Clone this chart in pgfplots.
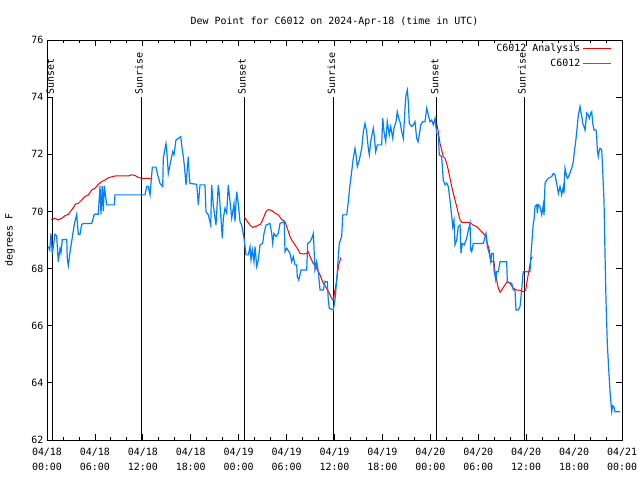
\documentclass[border=0pt]{standalone}
\usepackage{fontspec}
\setmainfont{DejaVu Sans Mono}
\usepackage{pgfplots}
\pgfplotsset{compat=1.18}
\definecolor{obsblue}{RGB}{0,128,255}
\begin{document}
\fontsize{10}{11}\selectfont
\begin{tikzpicture}
\begin{axis}[
  scale only axis, width=575bp, height=400bp,
  at={(0,0)}, anchor=south west,
  xmin=0, xmax=72, ymin=62, ymax=76,
  xtick={0,6,...,72},
  xticklabels={04/18\\00:00,04/18\\06:00,04/18\\12:00,04/18\\18:00,04/19\\00:00,04/19\\06:00,04/19\\12:00,04/19\\18:00,04/20\\00:00,04/20\\06:00,04/20\\12:00,04/20\\18:00,04/21\\00:00},
  xticklabel style={align=center, font=\fontsize{10}{15}\selectfont, yshift=-4.5bp},
  minor x tick num=2,
  ytick={62,64,...,76},
  yticklabel style={font=\fontsize{10}{11}\selectfont},
  /pgf/number format/assume math mode=true,
  tick align=inside, major tick length=6bp, minor tick length=3.5bp,
  tick style={black, line width=0.8bp},
  axis line style={black, line width=0.9bp},
  title={Dew Point for C6012 on 2024-Apr-18 (time in UTC)},
  title style={font=\fontsize{10}{11}\selectfont, yshift=4bp},
  ylabel={degrees F},
  ylabel style={font=\fontsize{10}{11}\selectfont, at={(axis description cs:-0.0643,0.5)}, anchor=center},
  legend cell align=right,
  legend plot pos=right,
  legend style={draw=none, fill=none, at={(0.984,0.998)}, anchor=north east,
     font=\fontsize{10}{11}\selectfont, row sep=2bp, inner sep=1bp},
  legend image code/.code={\draw[#1] (0bp,0bp) -- (28bp,0bp);},
  unbounded coords=jump,
]
% sunrise / sunset markers
\addplot[black, line width=0.9bp, forget plot] coordinates {(0.66,62) (0.66,74)};
\addplot[black, line width=0.9bp, forget plot] coordinates {(11.77,62) (11.77,74)};
\addplot[black, line width=0.9bp, forget plot] coordinates {(24.67,62) (24.67,74)};
\addplot[black, line width=0.9bp, forget plot] coordinates {(35.85,62) (35.85,74)};
\addplot[black, line width=0.9bp, forget plot] coordinates {(48.80,62) (48.80,74)};
\addplot[black, line width=0.9bp, forget plot] coordinates {(59.73,62) (59.73,74)};
\node[rotate=90, anchor=west, yshift=2bp, inner sep=2bp] at (axis cs:0.66,74) {Sunset};
\node[rotate=90, anchor=west, yshift=2bp, inner sep=2bp] at (axis cs:11.77,74) {Sunrise};
\node[rotate=90, anchor=west, yshift=2bp, inner sep=2bp] at (axis cs:24.67,74) {Sunset};
\node[rotate=90, anchor=west, yshift=2bp, inner sep=2bp] at (axis cs:35.85,74) {Sunrise};
\node[rotate=90, anchor=west, yshift=2bp, inner sep=2bp] at (axis cs:48.80,74) {Sunset};
\node[rotate=90, anchor=west, yshift=2bp, inner sep=2bp] at (axis cs:59.73,74) {Sunrise};
% analysis
\addplot[red, line width=1bp] coordinates {
(0.50,69.72) (1.00,69.76) (1.41,69.70) (1.84,69.76) (2.25,69.85) (2.67,69.90) (3.09,70.05) (3.59,70.26) (3.92,70.28) (4.35,70.40) (4.76,70.52) (5.17,70.58) (5.60,70.75) (6.01,70.81) (6.42,70.95) (6.85,71.04) (7.26,71.10) (7.68,71.18) (8.51,71.24) (10.18,71.24) (10.61,71.28) (11.02,71.26) (11.43,71.19) (11.86,71.16) (13.11,71.16)
(18.0,nan)
(24.67,69.82) (25.01,69.68) (25.42,69.52) (25.76,69.44) (26.26,69.49) (26.76,69.56) (27.09,69.76) (27.42,69.99) (27.71,70.07) (28.14,70.03) (28.55,69.94) (28.96,69.88) (29.39,69.72) (29.80,69.64) (30.09,69.41) (30.43,69.12) (30.64,69.00) (31.05,68.83) (31.47,68.65) (31.68,68.53) (32.09,68.51) (32.52,68.53) (32.72,68.59) (32.93,68.42) (33.35,68.18) (33.77,68.01) (34.19,67.78) (34.60,67.48) (35.02,67.31) (35.35,67.13) (35.65,66.96) (35.85,66.88) (36.06,67.25) (36.28,67.60) (36.40,67.89) (36.53,68.13) (36.81,68.39)
(42.0,nan)
(48.80,73.08) (49.00,72.79) (49.21,72.38) (49.42,72.15) (49.62,71.92) (49.84,71.86) (50.05,71.68) (50.25,71.45) (50.46,71.16) (50.68,70.87) (50.88,70.63) (51.09,70.40) (51.30,70.17) (51.50,69.93) (51.72,69.70) (51.93,69.62) (52.97,69.61) (53.38,69.52) (53.81,69.47) (54.22,69.35) (54.63,69.23) (54.97,69.12) (55.14,68.88) (55.38,68.65) (55.56,68.30) (55.69,68.24) (55.97,68.24) (56.10,67.89) (56.31,67.60) (56.51,67.31) (56.73,67.17) (56.94,67.25) (57.35,67.43) (57.64,67.54) (57.98,67.48) (58.39,67.31) (58.81,67.25) (59.23,67.24) (59.64,67.19) (59.94,67.25) (60.14,67.60) (60.36,67.95) (60.57,68.30) (60.77,68.42)
};
\addlegendentry{C6012 Analysis}
% observations
\addplot[obsblue, line width=1.2bp] coordinates {
(0.16,68.77) (0.34,68.65) (0.50,69.23) (0.66,68.50) (1.00,69.20) (1.21,69.15) (1.41,68.24) (1.63,68.70) (1.75,68.55) (1.92,69.02) (2.47,69.02) (2.54,68.35) (2.67,68.10) (2.88,68.58) (3.09,68.95) (3.42,69.55) (3.72,69.90) (3.79,69.65) (3.92,69.20) (4.13,69.20) (4.35,69.55) (4.67,69.58) (5.60,69.58) (5.92,69.90) (6.42,69.90) (6.64,70.89) (6.76,69.90) (6.92,70.89) (7.05,70.00) (7.18,70.89) (7.35,70.50) (7.47,70.23) (8.43,70.23) (8.51,70.58) (12.18,70.58)
(12.27,70.58) (12.48,70.87) (12.68,70.87) (12.90,70.58) (13.19,71.55) (13.65,71.55) (13.86,71.28) (14.15,70.98) (14.49,70.87) (14.56,71.86) (14.90,72.38) (14.99,72.15) (15.19,71.33) (15.61,71.92) (15.74,72.09) (15.90,71.98) (16.15,72.50) (16.57,72.58) (16.74,72.62) (16.94,72.15) (17.07,71.92) (17.19,71.63) (17.41,70.93) (17.69,71.92) (17.82,71.22) (17.91,70.98) (18.75,70.95) (18.95,70.23) (19.16,70.93) (19.78,70.93) (19.91,69.99) (20.20,69.88) (20.50,69.52) (20.62,70.93) (20.82,70.23) (21.16,69.52) (21.45,70.93) (21.58,70.58) (21.95,69.06) (22.08,69.76) (22.29,70.11) (22.50,69.94) (22.70,70.93) (22.83,70.58) (23.13,69.76) (23.42,70.28) (23.54,69.64) (23.75,70.69) (23.95,70.28) (24.17,69.64) (24.38,69.52) (24.67,69.06)
(24.92,68.48) (25.21,68.48) (25.42,68.77) (25.55,68.30) (25.71,68.65) (25.92,68.24) (26.05,68.77) (26.26,68.07) (26.46,68.30) (26.67,68.83) (27.01,68.88) (27.17,69.23) (27.42,69.52) (27.92,69.58) (28.14,69.23) (28.26,68.88) (28.42,69.23) (28.68,69.12) (28.96,69.23) (29.18,69.58) (29.71,69.64) (29.80,68.59) (30.02,68.71) (30.43,68.53) (30.64,68.24) (30.84,68.42) (31.05,68.13) (31.27,68.13) (31.34,67.72) (31.52,67.60) (31.68,67.78) (31.81,67.95) (32.52,67.95) (32.64,68.88) (32.93,68.94) (33.15,69.06) (33.35,69.23) (33.56,67.95) (33.77,68.24) (33.97,67.89) (34.19,67.25) (34.60,67.25) (34.81,67.54) (35.10,67.54) (35.22,66.90) (35.35,66.61) (35.85,66.55) (36.06,66.90) (36.28,67.60) (36.48,68.42) (36.60,68.88)
(36.90,69.12) (37.03,69.88) (37.53,69.88) (37.73,70.34) (37.94,70.93) (38.15,71.39) (38.35,71.86) (38.57,72.21) (38.69,71.98) (38.86,71.57) (39.11,71.80) (39.41,72.21) (39.61,72.79) (39.82,73.08) (40.03,72.79) (40.23,72.21) (40.36,71.98) (40.53,72.44) (40.73,72.73) (40.86,72.91) (40.99,72.62) (41.16,72.09) (41.36,72.33) (41.91,72.33) (42.04,73.26) (42.20,72.79) (42.41,72.44) (42.61,73.14) (42.86,72.68) (43.04,72.97) (43.29,72.56) (43.45,72.91) (43.70,73.14) (43.86,73.49) (44.04,73.26) (44.20,73.14) (44.42,72.79) (44.62,72.56) (44.83,73.61) (44.95,74.07) (45.12,74.25) (45.24,73.84) (45.37,73.08) (45.67,72.97) (45.87,73.03) (46.08,73.14) (46.29,72.56) (46.46,72.44) (46.62,72.68) (46.80,73.03) (47.05,73.14) (47.33,73.14) (47.55,73.61) (47.75,73.37) (47.96,73.14) (48.17,73.20) (48.37,73.03) (48.59,73.26) (48.80,72.73) (49.00,72.68) (49.12,71.98)
(49.42,71.92) (49.62,71.10) (49.84,70.93) (50.05,70.99) (50.25,70.87) (50.46,70.40) (50.68,69.82) (50.80,69.47) (50.96,69.70) (51.09,68.83) (51.30,69.00) (51.50,69.47) (51.72,69.53) (51.84,68.53) (52.00,68.88) (52.25,68.83) (52.55,69.06) (52.76,69.35) (52.97,69.58) (53.06,68.65) (53.18,68.59) (53.38,68.88) (54.63,68.88) (54.97,69.23) (55.14,68.77) (55.38,68.53) (55.56,68.24) (55.69,68.53) (55.89,68.53) (55.97,67.95) (56.19,67.60) (56.31,67.89) (56.51,67.89) (56.73,68.24) (57.56,68.24) (57.64,67.54) (58.19,67.48) (58.39,67.25) (58.60,67.25) (58.73,66.55) (59.02,66.55) (59.23,66.67) (59.44,67.25) (59.57,67.72) (59.64,67.89) (60.48,67.89) (60.61,68.53) (60.77,69.12) (60.89,69.58) (60.98,69.70) (61.11,70.17) (61.32,70.23) (61.40,69.94) (61.52,70.23) (61.73,70.17) (61.95,69.88) (62.15,70.23) (62.24,69.88) (62.36,70.98) (62.57,71.10) (62.77,71.16) (63.20,71.22) (63.40,71.33) (63.61,71.28) (63.82,70.98) (64.03,70.63) (64.24,70.87) (64.45,70.58) (64.65,70.87) (64.74,70.63) (64.86,71.51) (65.08,71.22) (65.20,71.16) (65.40,71.28) (65.70,71.51) (65.90,71.74) (66.03,72.09) (66.20,72.44) (66.33,72.79) (66.53,73.37) (66.74,73.67) (66.87,73.44) (66.95,73.37) (67.08,73.08) (67.24,72.97) (67.37,72.85) (67.58,73.44) (67.78,73.37) (67.91,73.26) (68.08,73.44) (68.21,73.49) (68.33,73.08) (68.50,72.85) (68.75,72.85) (68.83,72.62) (68.91,72.15) (69.03,71.92) (69.16,72.15) (69.25,72.21) (69.46,72.15) (69.58,71.45) (69.75,70.34) (69.87,68.53) (70.00,66.84) (70.16,65.38) (70.34,64.45) (70.50,63.69) (70.71,62.99) (70.84,63.20) (71.00,63.15) (71.12,62.99) (71.75,62.99)
};
\addlegendentry{C6012}
\end{axis}
\pgfresetboundingbox
\path (-47bp,-40bp) rectangle (593bp,440bp);
\end{tikzpicture}
\end{document}
